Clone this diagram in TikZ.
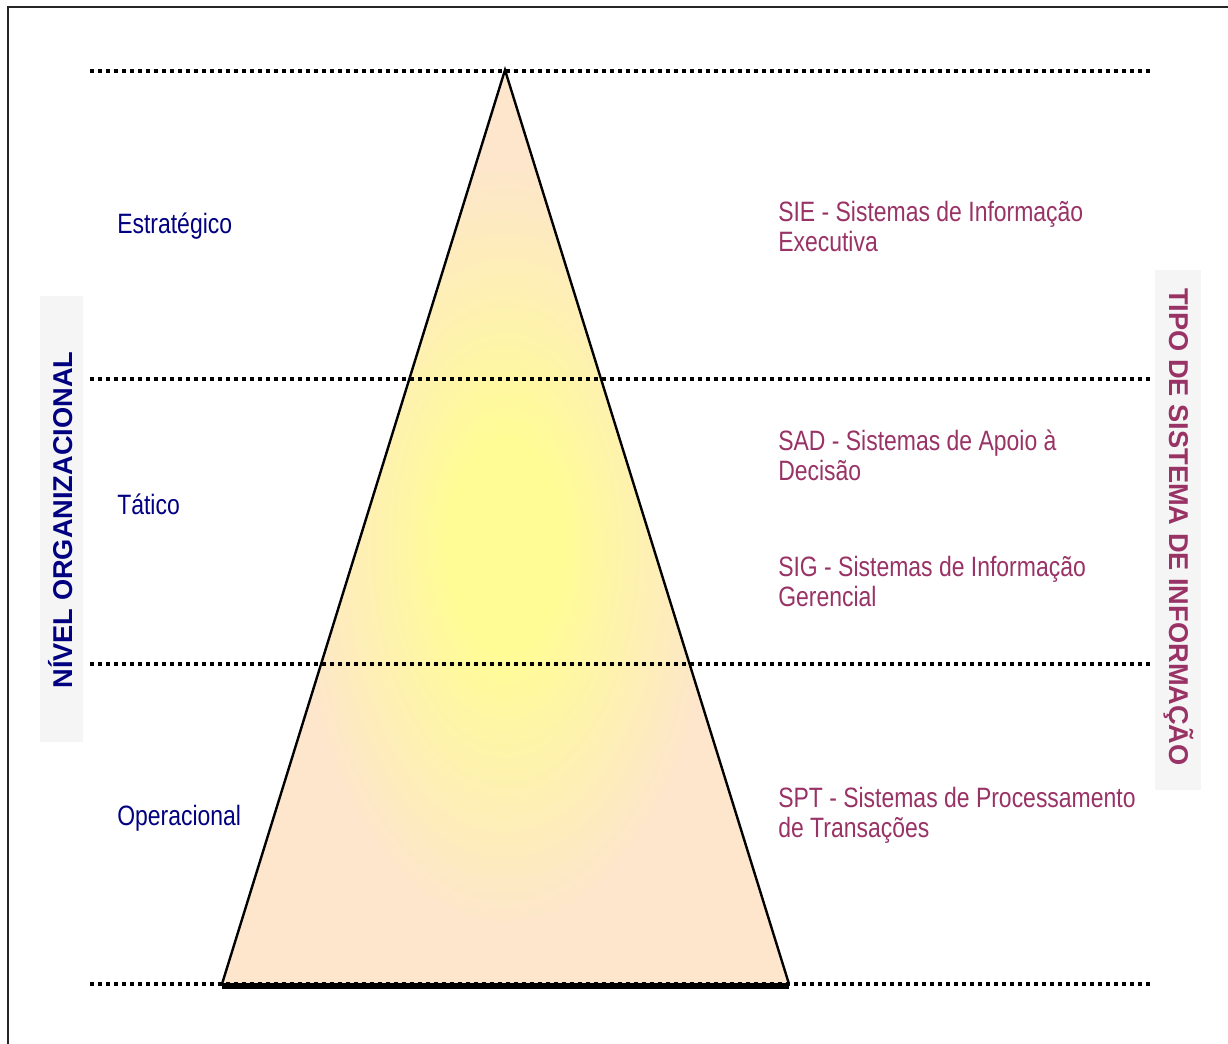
\documentclass[tikz,border=0pt]{standalone}
\usepackage{fontspec}
\setmainfont{Liberation Sans}
\newfontfamily\narrowsans[FakeStretch=0.82]{Liberation Sans}

\definecolor{peach}{RGB}{253,230,203}
\definecolor{glowyellow}{RGB}{255,252,150}
\definecolor{levelblue}{RGB}{0,0,128}
\definecolor{typeplum}{RGB}{153,51,102}
\definecolor{panelgray}{RGB}{245,245,245}

% soft yellow glow inside the pyramid (25bp = edge of the shaded box)
\pgfdeclareradialshading{pyramidglow}{\pgfpoint{0bp}{0bp}}{%
  color(0bp)=(glowyellow); color(7bp)=(glowyellow); color(25bp)=(peach); color(50bp)=(peach)}

\begin{document}
\begin{tikzpicture}[x=0.75pt,y=-0.75pt,
  levelline/.style={line width=3pt, dash pattern=on 3pt off 3pt},
  leveltext/.style={font=\narrowsans\fontsize{21}{24}\selectfont, text=levelblue,
                    anchor=base west, inner sep=0pt},
  typetext/.style={font=\narrowsans\fontsize{21}{24}\selectfont, text=typeplum,
                   anchor=base west, inner sep=0pt},
  axistitle/.style={font=\bfseries\fontsize{20.4}{24}\selectfont, anchor=base, inner sep=0pt},
  pyramidedge/.style={line width=1.8pt, line join=miter}
]
% page
\fill[white] (0,0) rectangle (1228,1043);
\useasboundingbox (0,0) rectangle (1228,1043);

% frame (top and left edges)
\draw[line width=2pt, black!85] (8,1050) -- (8,7) -- (1240,7);

% pale panels behind the side titles
\fill[panelgray] (40,296) rectangle (83,742);
\fill[panelgray] (1155,270) rectangle (1201,790);

% pyramid
\coordinate (apex) at (505,70);
\coordinate (bl) at (222,984);
\coordinate (br) at (789,984);
\fill[peach] (apex) -- (br) -- (bl) -- cycle;
\begin{scope}
  \clip (apex) -- (br) -- (bl) -- cycle;
  \shade[shading=pyramidglow] (295,165) rectangle (715,925);
\end{scope}
\draw[pyramidedge] (bl) -- (apex) -- (br);
\draw[line width=3.8pt] ([yshift=-1.5pt]bl) -- ([yshift=-1.5pt]br);

% level separators
\foreach \yy in {71,379,664,984}
  \draw[levelline] (90,\yy) -- (1150,\yy);

% organisational levels
\node[leveltext] (estrategico) at (117,233) {Estratégico};
\node[leveltext] (tatico) at (117,514) {Tático};
\node[leveltext] (operacional) at (117,825) {Operacional};

% information system types
\node[typetext] (sie1) at (778,221) {SIE - Sistemas de Informação};
\node[typetext] (sie2) at (778,251) {Executiva};
\node[typetext] (sad1) at (778,450) {SAD - Sistemas de Apoio à};
\node[typetext] (sad2) at (778,480) {Decisão};
\node[typetext] (sig1) at (778,576) {SIG - Sistemas de Informação};
\node[typetext] (sig2) at (778,606) {Gerencial};
\node[typetext] (spt1) at (778,807) {SPT - Sistemas de Processamento};
\node[typetext] (spt2) at (778,837) {de Transações};

% side titles
\node[axistitle, text=levelblue, rotate=90] (nivel) at (72,520) {NÍVEL ORGANIZACIONAL};
\node[axistitle, text=typeplum, rotate=-90] (tipo) at (1169,527) {TIPO DE SISTEMA DE INFORMAÇÃO};
\end{tikzpicture}
\end{document}
